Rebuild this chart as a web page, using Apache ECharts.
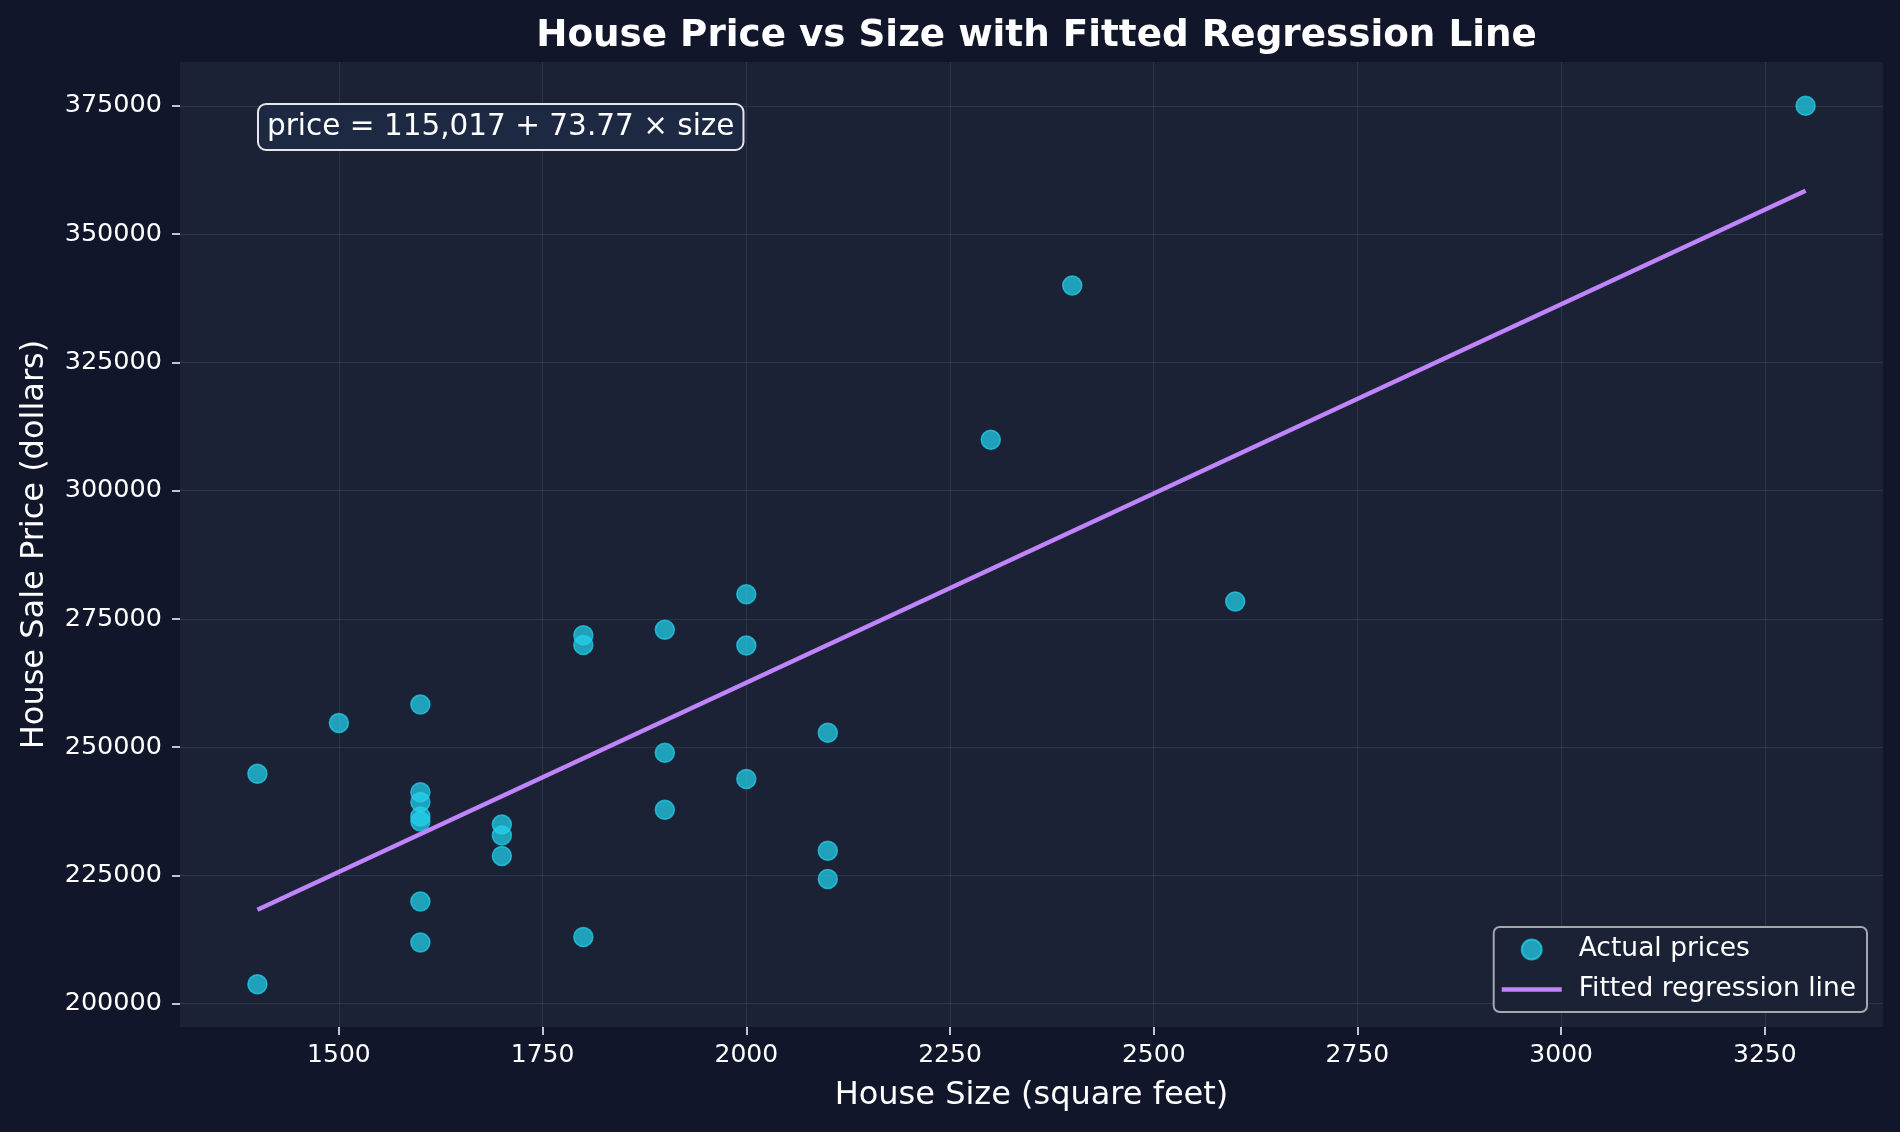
<!DOCTYPE html>
<html>
<head>
<meta charset="utf-8">
<script src="https://cdn.jsdelivr.net/npm/echarts@6/dist/echarts.min.js"></script>
<style>
html,body{margin:0;padding:0;background:#11162b;}
#chart{width:1900px;height:1132px;}
</style>
</head>
<body>
<div id="chart"></div>
<script>
// ---- data ----
const houseSizes = [1400, 1400, 1500, 1600, 1600, 1600, 1600, 1600, 1600, 1600,
  1700, 1700, 1700, 1800, 1800, 1800, 1900, 1900, 1900, 2000, 2000, 2000,
  2100, 2100, 2100, 2300, 2400, 2600, 3300];
const housePrices = [244800, 203800, 254700, 258300, 241200, 239300, 236500, 235500, 219900, 211900,
  234900, 232800, 228800, 271800, 269900, 213000, 272900, 248900, 237800, 279800, 269800, 243800,
  252800, 229800, 224300, 309900, 340000, 278400, 375000];
const fitSizes = [1400, 3300];
const fitPrices = [218300, 358450];
const xTicks = [1500, 1750, 2000, 2250, 2500, 2750, 3000, 3250];
const yTicks = [200000, 225000, 250000, 275000, 300000, 325000, 350000, 375000];
const titleText = 'House Price vs Size with Fitted Regression Line';
const equationText = 'price = 115,017 + 73.77 \u00d7 size';

const scatterData = houseSizes.map((s, i) => [s, housePrices[i]]);
const fitData = fitSizes.map((s, i) => [s, fitPrices[i]]);

const font = 'DejaVu Sans';
const gridLeft = 180, gridRight = 17;
const chart = echarts.init(document.getElementById('chart'));
chart.setOption({
  backgroundColor: '#11162b',
  animation: false,
  title: {
    text: titleText, left: (gridLeft + 1900 - gridRight) / 2, top: 13, textAlign: 'center',
    textStyle: {color: '#ffffff', fontFamily: font, fontWeight: 'bold', fontSize: 37.3}
  },
  grid: {left: gridLeft, right: gridRight, top: 62, bottom: 105, show: true,
    backgroundColor: '#1b2235', borderWidth: 0},
  xAxis: {
    type: 'value', min: 1305, max: 3395,
    name: 'House Size (square feet)', nameLocation: 'middle', nameGap: 53,
    nameTextStyle: {color: '#ffffff', fontFamily: font, fontSize: 32},
    axisLine: {show: false},
    axisTick: {show: true, length: 8, lineStyle: {color: '#ffffff', width: 1.5}, customValues: xTicks},
    axisLabel: {color: '#ffffff', fontFamily: font, fontSize: 25, margin: 16, customValues: xTicks,
      formatter: v => String(v)},
    splitLine: {show: true, lineStyle: {color: 'rgba(148,163,184,0.14)', width: 1}}
  },
  yAxis: {
    type: 'value', min: 195450, max: 383550,
    name: 'House Sale Price (dollars)', nameLocation: 'middle', nameGap: 129,
    nameTextStyle: {color: '#ffffff', fontFamily: font, fontSize: 32},
    axisLine: {show: false},
    axisTick: {show: true, length: 8, lineStyle: {color: '#ffffff', width: 1.5}, customValues: yTicks},
    axisLabel: {color: '#ffffff', fontFamily: font, fontSize: 25.5, margin: 18, customValues: yTicks,
      formatter: v => String(v)},
    splitLine: {show: true, lineStyle: {color: 'rgba(148,163,184,0.14)', width: 1}}
  },
  legend: {
    orient: 'vertical', right: 33, bottom: 120,
    padding: [9, 11, 9, 8],
    backgroundColor: '#1b2235', borderColor: '#a3a7ae', borderWidth: 2, borderRadius: 6,
    itemWidth: 60, itemHeight: 20, itemGap: 13, symbolKeepAspect: true,
    textStyle: {color: '#ffffff', fontFamily: font, fontSize: 26.5, padding: [0, 0, 0, 12]},
    data: [
      {name: 'Actual prices', icon: 'circle'},
      {name: 'Fitted regression line', icon: 'path://M0,0 L60,0 L60,4.5 L0,4.5 Z'}
    ]
  },
  graphic: [{
    type: 'text', left: 257, top: 103, z: 100,
    style: {
      text: equationText, fill: '#ffffff', font: '29.5px "DejaVu Sans"',
      backgroundColor: '#1d2843', borderColor: '#e5e7eb', borderWidth: 2, borderRadius: 7,
      padding: [7, 8, 7, 8]
    }
  }],
  series: [
    {
      name: 'Actual prices', type: 'scatter', data: scatterData, symbol: 'circle', symbolSize: 19,
      itemStyle: {color: 'rgba(34,211,238,0.72)', borderColor: 'rgba(34,211,238,0.72)', borderWidth: 1.5, opacity: 1},
      z: 3
    },
    {
      name: 'Fitted regression line', type: 'line', data: fitData, symbol: 'none', showSymbol: false,
      lineStyle: {color: '#c084fc', width: 4.5}, itemStyle: {color: '#c084fc'}, z: 4
    }
  ]
});
</script>
</body>
</html>
